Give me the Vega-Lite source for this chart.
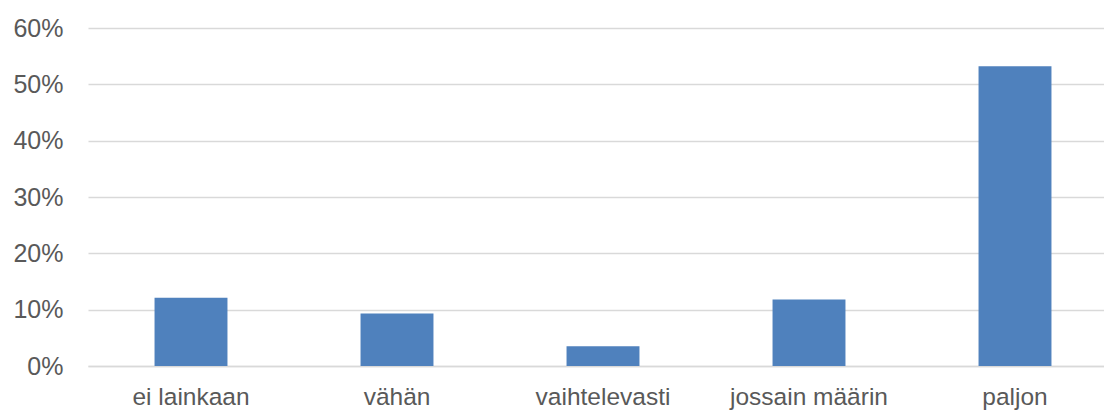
{
  "$schema": "https://vega.github.io/schema/vega-lite/v6.json",
  "width": 1030,
  "height": 338,
  "autosize": "none",
  "padding": {"left": 88, "top": 28, "right": -14, "bottom": 44},
  "background": "white",
  "config": {"view": {"stroke": null}, "font": "Liberation Sans"},
  "data": {"values": [
    {"category": "ei lainkaan", "share": 0.121},
    {"category": "vähän", "share": 0.093},
    {"category": "vaihtelevasti", "share": 0.035},
    {"category": "jossain määrin", "share": 0.118},
    {"category": "paljon", "share": 0.532}
  ]},
  "mark": {"type": "bar", "color": "#4f81bd"},
  "encoding": {
    "x": {
      "field": "category", "type": "nominal", "sort": null,
      "scale": {"paddingInner": 0.646, "paddingOuter": 0.323},
      "axis": {"title": null, "labelAngle": 0, "labelFontSize": 24.5, "labelColor": "#595959", "labelPadding": 19, "ticks": false, "domainColor": "#d9d9d9", "domainWidth": 1.5, "labelFont": "Liberation Sans"}
    },
    "y": {
      "field": "share", "type": "quantitative",
      "scale": {"domain": [0, 0.6], "nice": false},
      "axis": {"title": null, "format": ".0%", "values": [0, 0.1, 0.2, 0.3, 0.4, 0.5, 0.6], "labelFontSize": 25, "labelColor": "#595959", "labelPadding": 25, "ticks": false, "domain": false, "gridColor": "#d9d9d9", "gridWidth": 1.5, "labelFont": "Liberation Sans"}
    }
  }
}
